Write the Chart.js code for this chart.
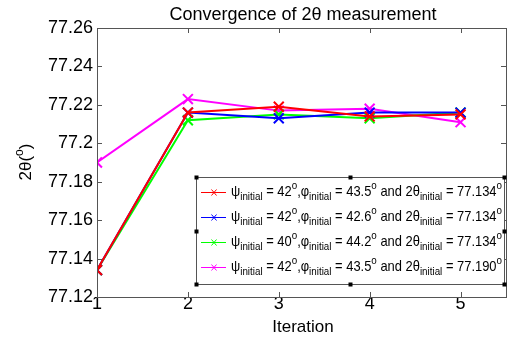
<!DOCTYPE html>
<html>
<head>
<meta charset="utf-8">
<script src="https://cdn.jsdelivr.net/npm/chart.js@4"></script>
<style>
  html, body { margin: 0; padding: 0; background: #fff; overflow: hidden; }
  #wrap { width: 515px; height: 339px; }
</style>
</head>
<body>
<div id="wrap"><canvas id="chart" width="515" height="339"></canvas></div>
<script>
// data
const iterations = [1, 2, 3, 4, 5];
const xTicks = [1, 2, 3, 4, 5];
const yTicks = [77.12, 77.14, 77.16, 77.18, 77.2, 77.22, 77.24, 77.26];
const yTickLabels = ['77.12', '77.14', '77.16', '77.18', '77.2', '77.22', '77.24', '77.26'];

const run1 = [77.134, 77.216, 77.219, 77.214, 77.215]; // red
const run2 = [77.134, 77.216, 77.213, 77.216, 77.216]; // blue
const run3 = [77.134, 77.212, 77.215, 77.213, 77.216]; // green
const run4 = [77.190, 77.223, 77.217, 77.218, 77.211]; // magenta

const seriesColors = ['#ff0000', '#0000ff', '#00ff00', '#ff00ff'];
// legend text pieces: [psi, phi, 2theta]
const legendValues = [
    ['42', '43.5', '77.134'],
    ['42', '42.6', '77.134'],
    ['40', '44.2', '77.134'],
    ['42', '43.5', '77.190']
];

const FONT = '"Liberation Sans", Arial, sans-serif';
const axisColor = '#555';

function makeSet(vals, color) {
    return {
        data: iterations.map((x, i) => ({ x: x, y: vals[i] })),
        borderColor: color,
        backgroundColor: color,
        borderWidth: 2,
        pointStyle: 'crossRot',
        pointRadius: 7,
        pointBorderWidth: 2,
        pointHoverRadius: 7,
        tension: 0
    };
}

// draws text made of normal / sub / sup pieces, squeezed to a given width
function drawRich(ctx, x, y, parts, size, width) {
    const sizeOf = p => p[1] === 'n' ? size : size * 0.76;
    let total = 0;
    parts.forEach(p => {
        ctx.font = sizeOf(p) + 'px ' + FONT;
        total += ctx.measureText(p[0]).width;
    });
    ctx.save();
    ctx.translate(x, y);
    ctx.scale(Math.min(1, width / total), 1);
    let cx = 0;
    parts.forEach(p => {
        let dy = 0;
        if (p[1] === 'sub') dy = 5;
        if (p[1] === 'sup') dy = -6;
        ctx.font = sizeOf(p) + 'px ' + FONT;
        ctx.fillText(p[0], cx, dy);
        cx += ctx.measureText(p[0]).width;
    });
    ctx.restore();
}

const extras = {
    id: 'extras',
    afterDraw(chart) {
        const ctx = chart.ctx;
        const a = chart.chartArea;
        const xs = chart.scales.x, ys = chart.scales.y;
        ctx.save();

        // frame + inward ticks
        ctx.strokeStyle = axisColor;
        ctx.lineWidth = 1;
        ctx.strokeRect(a.left + 0.5, a.top + 0.5, a.right - a.left, a.bottom - a.top);
        ctx.beginPath();
        xTicks.forEach(v => {
            const px = Math.round(xs.getPixelForValue(v)) + 0.5;
            ctx.moveTo(px, a.bottom); ctx.lineTo(px, a.bottom - 5);
            ctx.moveTo(px, a.top); ctx.lineTo(px, a.top + 5);
        });
        yTicks.forEach(v => {
            const py = Math.round(ys.getPixelForValue(v)) + 0.5;
            ctx.moveTo(a.left, py); ctx.lineTo(a.left + 5, py);
            ctx.moveTo(a.right, py); ctx.lineTo(a.right - 5, py);
        });
        ctx.stroke();

        // titles
        ctx.fillStyle = '#000';
        ctx.textBaseline = 'middle';
        ctx.textAlign = 'center';
        ctx.font = '18px ' + FONT;
        ctx.fillText('Convergence of 2\u03b8 measurement', 303, 15);
        ctx.font = '17px ' + FONT;
        ctx.fillText('Iteration', 303, 327);

        // y axis title
        ctx.save();
        ctx.translate(26, 162);
        ctx.rotate(-Math.PI / 2);
        ctx.textAlign = 'left';
        ctx.font = '17px ' + FONT;
        const w1 = ctx.measureText('2\u03b8(').width;
        ctx.font = '12px ' + FONT;
        const w2 = ctx.measureText('o').width;
        ctx.font = '17px ' + FONT;
        const w3 = ctx.measureText(')').width;
        let sx = -(w1 + w2 + w3) / 2;
        ctx.fillText('2\u03b8(', sx, 0);
        ctx.font = '12px ' + FONT;
        ctx.fillText('o', sx + w1, -6);
        ctx.font = '17px ' + FONT;
        ctx.fillText(')', sx + w1 + w2, 0);
        ctx.restore();

        // legend box
        const L = 196, T = 177, R = 504, B = 284;
        ctx.fillStyle = '#fff';
        ctx.fillRect(L, T, R - L, B - T);
        ctx.strokeStyle = axisColor;
        ctx.strokeRect(L + 0.5, T + 0.5, R - L, B - T);
        ctx.fillStyle = '#000';
        const mx = (L + R) / 2, my = (T + B) / 2;
        [[L, T], [mx, T], [R, T], [L, my], [R, my], [L, B], [mx, B], [R, B]].forEach(h => {
            ctx.fillRect(Math.round(h[0]) - 1.5, Math.round(h[1]) - 1.5, 4, 4);
        });

        ctx.textAlign = 'left';
        legendValues.forEach((v, i) => {
            const y = 192 + i * 25;
            const c = seriesColors[i];
            ctx.strokeStyle = c;
            ctx.lineWidth = 1;
            ctx.beginPath();
            ctx.moveTo(201, y + 0.5); ctx.lineTo(226, y + 0.5);
            ctx.moveTo(211.5, y - 2.5); ctx.lineTo(216.5, y + 3.5);
            ctx.moveTo(216.5, y - 2.5); ctx.lineTo(211.5, y + 3.5);
            ctx.stroke();
            ctx.fillStyle = '#000';
            drawRich(ctx, 231, y, [
                ['\u03c8', 'n'], ['initial', 'sub'], [' = ' + v[0], 'n'], ['o', 'sup'],
                [',\u03c6', 'n'], ['initial', 'sub'], [' = ' + v[1], 'n'], ['o', 'sup'],
                [' and 2\u03b8', 'n'], ['initial', 'sub'], [' = ' + v[2], 'n'], ['o', 'sup']
            ], 15, 271);
        });
        ctx.restore();
    }
};

new Chart(document.getElementById('chart'), {
    type: 'line',
    data: {
        datasets: [
            makeSet(run1, seriesColors[0]),
            makeSet(run2, seriesColors[1]),
            makeSet(run3, seriesColors[2]),
            makeSet(run4, seriesColors[3])
        ]
    },
    options: {
        responsive: false,
        animation: false,
        layout: { padding: { top: 28, right: 4, left: 0, bottom: 0 } },
        plugins: { legend: { display: false }, title: { display: false }, tooltip: { enabled: false } },
        scales: {
            x: {
                type: 'linear', min: 1, max: 5.5,
                grid: { display: false, drawTicks: false }, border: { display: false },
                afterBuildTicks: s => { s.ticks = xTicks.map(v => ({ value: v })); },
                afterFit: s => { s.height = 42; },
                ticks: { color: '#000', font: { size: 18, family: FONT }, padding: -4, maxRotation: 0 }
            },
            y: {
                min: 77.12, max: 77.26,
                grid: { display: false, drawTicks: false }, border: { display: false },
                afterBuildTicks: s => { s.ticks = yTicks.map(v => ({ value: v })); },
                afterFit: s => { s.width = 97; },
                ticks: {
                    color: '#000', font: { size: 18, family: FONT }, padding: 4,
                    callback: (val, i) => yTickLabels[i]
                }
            }
        }
    },
    plugins: [extras]
});
</script>
</body>
</html>
